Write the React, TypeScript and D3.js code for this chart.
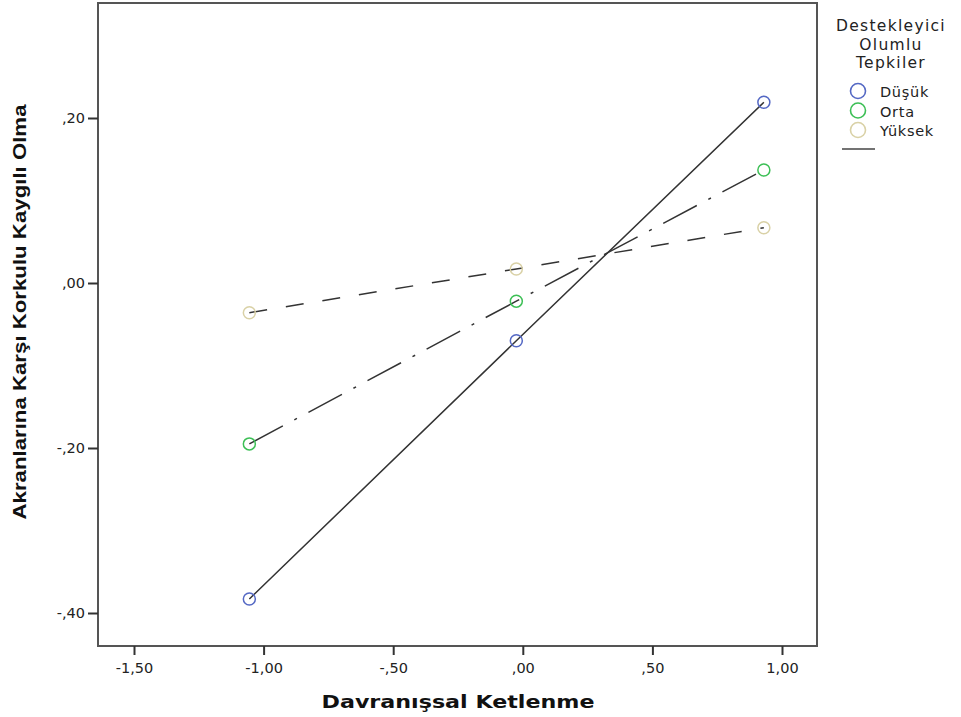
import { useEffect, useRef } from "react";
import * as d3 from "d3";

const groups = ["Düşük", "Orta", "Yüksek"];
const groupColors = ["#5468c4", "#3cbf55", "#d9d1a6"];
const groupDash = ["none", "38,13,3,13", "18,19"];
const xValues = [-1.055, -0.025, 0.93];
const dusukValues = [-0.383, -0.07, 0.219];
const ortaValues = [-0.195, -0.022, 0.137];
const yuksekValues = [-0.036, 0.017, 0.067];
const xTicks = [-1.5, -1.0, -0.5, 0.0, 0.5, 1.0];
const yTicks = [-0.4, -0.2, 0.0, 0.2];
const legendTitle = ["Destekleyici", "Olumlu", "Tepkiler"];

const fmt = (v: number) => {
  const s = Math.abs(v).toFixed(2).replace(".", ",").replace(/^0,/, ",");
  return (v < 0 ? "-" : "") + s;
};

const sans = "'DejaVu Sans', Verdana, sans-serif";

export default function App() {
  const svgRef = useRef<SVGSVGElement | null>(null);

  useEffect(() => {
    if (!svgRef.current) return;
    const svg = d3.select(svgRef.current);
    svg.selectAll("*").remove();

    const left = 98, right = 817, top = 3, bottom = 646;
    const x = d3.scaleLinear().domain([-1.5, 1.0]).range([134, 782]);
    const y = d3.scaleLinear().domain([-0.4, 0.2]).range([613, 118]);

    svg.append("rect").attr("width", 961).attr("height", 717).attr("fill", "#fff");

    // frame
    svg.append("rect")
      .attr("x", left).attr("y", top)
      .attr("width", right - left).attr("height", bottom - top)
      .attr("fill", "none").attr("stroke", "#555").attr("stroke-width", 2);

    // x axis
    const gx = svg.append("g")
      .attr("transform", `translate(0,${bottom})`)
      .call(d3.axisBottom(x).tickValues(xTicks).tickSize(9).tickPadding(8).tickFormat(d => fmt(+d)));
    gx.select(".domain").remove();
    gx.selectAll("line").attr("stroke", "#333").attr("stroke-width", 2);
    gx.selectAll("text").attr("font-family", sans).attr("font-size", 14.5).attr("fill", "#222");

    const gy = svg.append("g")
      .attr("transform", `translate(${left},0)`)
      .call(d3.axisLeft(y).tickValues(yTicks).tickSize(10).tickPadding(3).tickFormat(d => fmt(+d)));
    gy.select(".domain").remove();
    gy.selectAll("line").attr("stroke", "#333").attr("stroke-width", 2);
    gy.selectAll("text").attr("font-family", sans).attr("font-size", 14.5).attr("fill", "#222");

    // axis titles
    svg.append("text")
      .attr("x", 458).attr("y", 708)
      .attr("text-anchor", "middle")
      .attr("font-family", sans)
      .attr("font-weight", "bold").attr("font-size", 17)
      .attr("textLength", 273).attr("lengthAdjust", "spacingAndGlyphs")
      .attr("fill", "#111")
      .text("Davranışsal Ketlenme");

    svg.append("text")
      .attr("transform", "translate(26,312) rotate(-90)")
      .attr("text-anchor", "middle")
      .attr("font-family", "'Liberation Sans Narrow', 'Liberation Sans', Arial, sans-serif")
      .attr("font-weight", "bold").attr("font-size", 19)
      .attr("textLength", 415).attr("lengthAdjust", "spacingAndGlyphs")
      .attr("fill", "#111")
      .text("Akranlarına Karşı Korkulu Kaygılı Olma");

    const series = [dusukValues, ortaValues, yuksekValues];
    const line = d3.line<number>().x((_, i) => x(xValues[i])).y(d => y(d));

    series.forEach((vals, gi) => {
      svg.append("path")
        .datum(vals)
        .attr("d", line)
        .attr("fill", "none")
        .attr("stroke", "#333")
        .attr("stroke-width", 1.5)
        .attr("stroke-dasharray", groupDash[gi]);
    });

    series.forEach((vals, gi) => {
      svg.append("g").selectAll("circle")
        .data(vals)
        .join("circle")
        .attr("cx", (_, i) => x(xValues[i]))
        .attr("cy", d => y(d))
        .attr("r", 6)
        .attr("fill", "none")
        .attr("stroke", groupColors[gi])
        .attr("stroke-width", 1.5);
    });

    // legend
    const lg = svg.append("g");
    legendTitle.forEach((t, i) => {
      lg.append("text")
        .attr("x", 891).attr("y", 31 + i * 18.5)
        .attr("text-anchor", "middle")
        .attr("font-family", sans)
        .attr("font-size", 15.5)
        .attr("letter-spacing", 1.3)
        .attr("fill", "#222")
        .text(t);
    });
    groups.forEach((g, i) => {
      lg.append("circle")
        .attr("cx", 858).attr("cy", 91 + i * 19.5)
        .attr("r", 7.5)
        .attr("fill", "none")
        .attr("stroke", groupColors[i])
        .attr("stroke-width", 1.6);
      lg.append("text")
        .attr("x", 880).attr("y", 97 + i * 19.5)
        .attr("font-family", sans)
        .attr("font-size", 14.5)
        .attr("letter-spacing", 0.7)
        .attr("fill", "#222")
        .text(g);
    });
    lg.append("line")
      .attr("x1", 842).attr("x2", 875)
      .attr("y1", 149).attr("y2", 149)
      .attr("stroke", "#444").attr("stroke-width", 1.5);
  }, []);

  return (
    <svg
      ref={svgRef}
      width={961}
      height={717}
      style={{ position: "absolute", left: 0, top: 0, display: "block" }}
    />
  );
}
